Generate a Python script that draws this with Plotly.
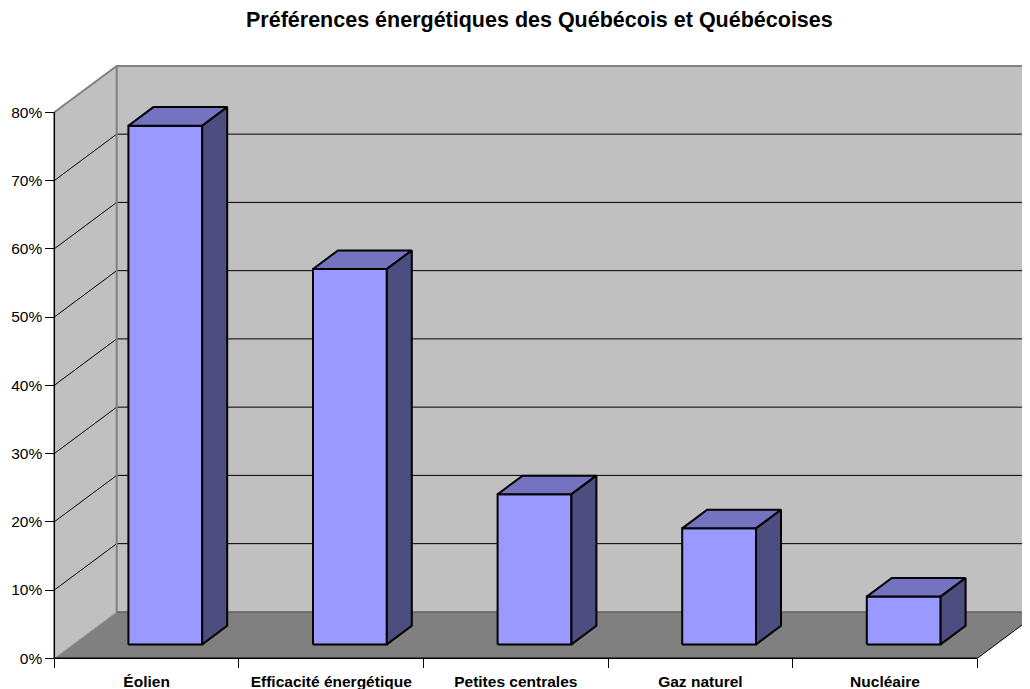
import plotly.graph_objects as go

# ---- data ----
categories = ["Éolien", "Efficacité énergétique", "Petites centrales", "Gaz naturel", "Nucléaire"]
values = [76, 55, 22, 17, 7]
y_ticks = [0, 10, 20, 30, 40, 50, 60, 70, 80]
y_tick_labels = ["0%", "10%", "20%", "30%", "40%", "50%", "60%", "70%", "80%"]
title_text = "Préférences énergétiques des Québécois et Québécoises"

# ---- geometry (oblique 3D projection in data units) ----
OFF = 8                          # page body margin
W, H = 1030 - OFF, 689 - OFF     # figure size
X0_PX, Y0_PX = 54.3 - OFF, 658.3 - OFF   # front origin in figure pixels
PX_PER_CAT = 184.6
PX_PER_PCT = 6.825
DX = 62.4 / PX_PER_CAT           # depth offset, category units
DY = 46.4 / PX_PER_PCT           # depth offset, percent units
YMAX = 80
NCAT = len(categories)

xr = [-X0_PX / PX_PER_CAT, (W - X0_PX) / PX_PER_CAT]
yr = [-(H - Y0_PX) / PX_PER_PCT, Y0_PX / PX_PER_PCT]


def proj(x, d, v):
    return x + d * DX, v + d * DY


def path(pts, close=True):
    s = "M " + " L ".join(f"{x:.5f},{y:.5f}" for x, y in pts)
    return s + (" Z" if close else "")


shapes = []


def poly(pts, fill):
    shapes.append(dict(type="path", xref="x", yref="y", path=path(pts), fillcolor=fill,
                       line=dict(width=0), layer="below"))


def line(pts, color, width):
    shapes.append(dict(type="path", xref="x", yref="y", path=path(pts, close=False),
                       line=dict(color=color, width=width), layer="below"))


# walls and floor
poly([proj(0, 1, 0), proj(NCAT + 1, 1, 0), proj(NCAT + 1, 1, YMAX), proj(0, 1, YMAX)], "#C0C0C0")
poly([proj(0, 0, 0), proj(0, 0, YMAX), proj(0, 1, YMAX), proj(0, 1, 0)], "#C0C0C0")
poly([proj(0, 0, 0), proj(NCAT, 0, 0), proj(NCAT, 1, 0), proj(0, 1, 0)], "#808080")

# gridlines
for v in y_ticks[1:-1]:
    line([proj(0, 0, v), proj(0, 1, v), proj(NCAT + 1, 1, v)], "#000000", 1)

# wall edges
line([proj(0, 1, 0), proj(0, 1, YMAX)], "#808080", 2)
line([proj(0, 0, YMAX), proj(0, 1, YMAX), proj(NCAT + 1, 1, YMAX)], "#808080", 2)
line([proj(0, 1, 0), proj(NCAT + 1, 1, 0)], "#606060", 1.5)
line([proj(0, 0, 0), proj(0, 1, 0)], "#A0A0A0", 1)
line([proj(NCAT, 0, 0), proj(NCAT, 1, 0)], "#000000", 1)
# axis lines
line([proj(0, 0, 0), proj(0, 0, YMAX)], "#000000", 1.5)
line([proj(0, 0, 0), proj(NCAT, 0, 0)], "#000000", 1.5)

fig = go.Figure()

FRONT = "#9999FF"
TOP = "#7373BF"
SIDE = "#4D4D80"
B0, B1 = 0.3, 0.7   # bar extent in category width fraction
D0, D1 = 0.3, 0.7   # bar extent in depth

for i, (cat, v) in enumerate(zip(categories, values)):
    x0, x1 = i + B0, i + B1
    faces = [
        ([proj(x0, D0, 0), proj(x1, D0, 0), proj(x1, D0, v), proj(x0, D0, v)], FRONT),
        ([proj(x0, D0, v), proj(x1, D0, v), proj(x1, D1, v), proj(x0, D1, v)], TOP),
        ([proj(x1, D0, 0), proj(x1, D1, 0), proj(x1, D1, v), proj(x1, D0, v)], SIDE),
    ]
    for pts, col in faces:
        pts = pts + [pts[0]]
        fig.add_trace(go.Scatter(
            x=[p[0] for p in pts], y=[p[1] for p in pts],
            mode="lines", fill="toself", fillcolor=col,
            line=dict(color="#000000", width=2),
            hoverinfo="skip", showlegend=False, name=cat))

FONT = "Liberation Sans, Arial, sans-serif"

fig.update_layout(
    width=W, height=H,
    margin=dict(l=0, r=0, t=0, b=0),
    paper_bgcolor="white", plot_bgcolor="white",
    showlegend=False,
    shapes=shapes,
    xaxis=dict(
        range=xr, domain=[0, 1], anchor="free", position=(H - Y0_PX) / H,
        showgrid=False, zeroline=False, showline=False,
        tickmode="array", tickvals=[i + 0.5 for i in range(NCAT)], ticktext=categories,
        ticks="outside", ticklen=0, ticklabelstandoff=9,
        tickfont=dict(family=FONT, size=15.5, color="#000000", weight="bold"),
        minor=dict(tickmode="array", tickvals=list(range(NCAT + 1)), ticks="outside",
                   ticklen=9, tickcolor="#000000", tickwidth=1, showgrid=False),
        fixedrange=True,
    ),
    yaxis=dict(
        range=yr, domain=[0, 1], anchor="free", position=X0_PX / W,
        showgrid=False, zeroline=False, showline=False,
        tickmode="array", tickvals=y_ticks, ticktext=y_tick_labels,
        ticks="outside", ticklen=9, tickcolor="#000000", tickwidth=1,
        tickfont=dict(family=FONT, size=15.5, color="#000000"),
        fixedrange=True,
    ),
    annotations=[dict(
        text=f"<b>{title_text}</b>", xref="paper", yref="paper",
        x=(539 - OFF) / W, y=1 - (20 - OFF) / H, xanchor="center", yanchor="middle",
        showarrow=False,
        font=dict(family=FONT, size=21.5, color="#000000"))],
)

fig.write_html("out.html")
